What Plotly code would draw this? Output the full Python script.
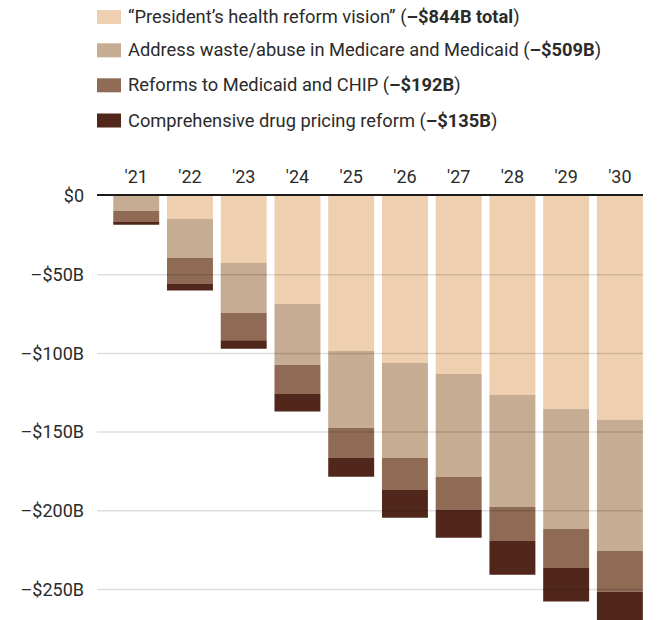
import plotly.graph_objects as go

years = ["'21", "'22", "'23", "'24", "'25", "'26", "'27", "'28", "'29", "'30"]

vision = [0, -14.6, -42.6, -68.6, -98.5, -106.1, -113.1, -126.4, -135.3, -142.3]
waste = [-9.5, -24.8, -31.8, -38.8, -48.9, -60.4, -65.4, -71.2, -76.2, -83.2]
medicaid = [-7.6, -16.5, -17.2, -18.4, -19.1, -20.3, -21.0, -21.6, -24.8, -26.0]
drug = [-1.1, -4.2, -5.5, -11.2, -11.9, -17.6, -17.6, -21.4, -21.4, -23.0]

series_names = [
    "\u201cPresident\u2019s health reform vision\u201d",
    "Address waste/abuse in Medicare and Medicaid",
    "Reforms to Medicaid and CHIP",
    "Comprehensive drug pricing reform",
]
series_totals = ["\u2013$844B total", "\u2013$509B", "\u2013$192B", "\u2013$135B"]
series_values = [vision, waste, medicaid, drug]
colors = ["#EECFB0", "#C6AC93", "#8F6A54", "#51271C"]

tick_vals = [0, -50, -100, -150, -200, -250]
tick_text = ["$0", "\u2013$50B", "\u2013$100B", "\u2013$150B", "\u2013$200B", "\u2013$250B"]

W, H = 657, 620
ML, MR, MT, MB = 97, 14, 196, 0
PW, PH = W - ML - MR, H - MT - MB

def px_x(px):
    return (px - ML) / PW

def px_y(py):
    return 1 + (MT - py) / PH

FONT = "Roboto"
TXT = "#2b2b2b"

fig = go.Figure()
for name, vals, col in zip(series_names, series_values, colors):
    fig.add_trace(go.Bar(x=years, y=vals, name=name, marker=dict(color=col, line=dict(width=0)),
                         showlegend=False))

shapes = []
for v in tick_vals[1:]:
    shapes.append(dict(type="line", xref="paper", yref="y", x0=0, x1=1, y0=v, y1=v,
                       line=dict(color="rgba(0,0,0,0.13)", width=1.5), layer="above"))

annotations = []
row_y = [17, 50.3, 85.3, 120.5]
for i, (name, tot, col) in enumerate(zip(series_names, series_totals, colors)):
    yc = row_y[i]
    shapes.append(dict(type="rect", xref="paper", yref="paper",
                       x0=px_x(97), x1=px_x(121), y0=px_y(yc - 7), y1=px_y(yc + 7),
                       fillcolor=col, line=dict(width=0)))
    annotations.append(dict(xref="paper", yref="paper", x=px_x(126), y=px_y(yc),
                            xanchor="left", yanchor="middle", showarrow=False,
                            text=f"{name} (<b>{tot}</b>)",
                            font=dict(family=FONT, size=18.3, color=TXT)))

fig.update_layout(
    width=W, height=H,
    margin=dict(l=ML, r=MR, t=MT, b=MB, pad=0),
    paper_bgcolor="white", plot_bgcolor="white",
    barmode="relative", bargap=0.145,
    font=dict(family=FONT, size=18, color=TXT),
    shapes=shapes, annotations=annotations,
    xaxis=dict(side="top", type="category", range=[-0.73, 9.43],
               showline=True, linecolor="#1a1a1a", linewidth=1.5,
               showgrid=False, ticks="", ticklabelstandoff=4,
               tickfont=dict(family=FONT, size=18, color=TXT), fixedrange=True),
    yaxis=dict(range=[-269.4, 0], tickvals=tick_vals, ticktext=tick_text,
               showgrid=False, zeroline=False, showline=False, ticks="",
               ticklabelstandoff=12,
               tickfont=dict(family=FONT, size=18, color=TXT), fixedrange=True),
)

fig.write_html("out.html", config={"displayModeBar": False},
               post_script="document.body.style.margin='0';document.body.style.overflow='hidden';")
